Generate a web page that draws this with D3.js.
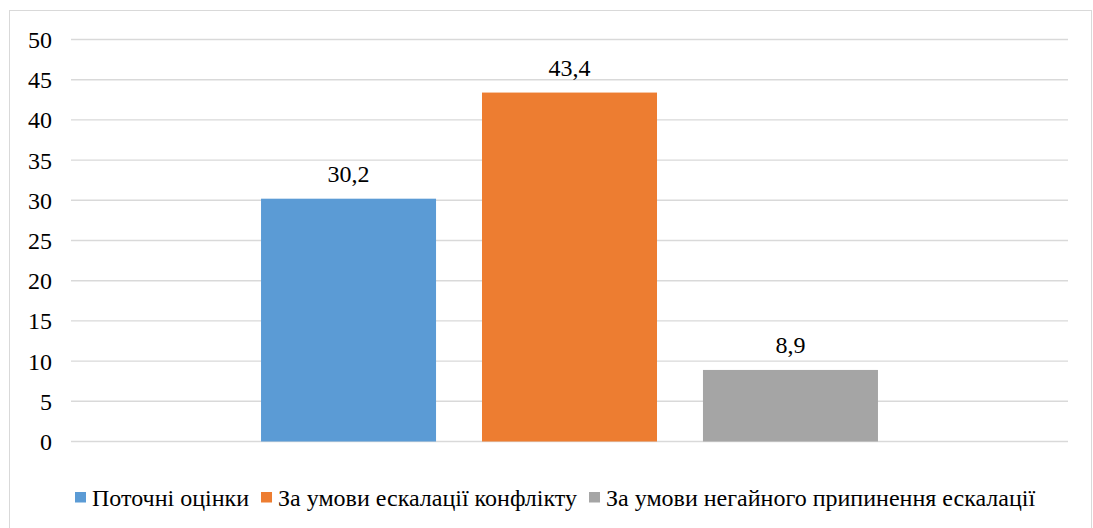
<!DOCTYPE html>
<html>
<head>
<meta charset="utf-8">
<script src="https://cdn.jsdelivr.net/npm/d3@7"></script>
<style>
  html, body { margin: 0; padding: 0; background: #fff; }
  svg { display: block; }
</style>
</head>
<body>
<svg id="chart" width="1093" height="528" style='font-family: "Liberation Serif"'></svg>
<script>
// Scenario estimates (single category, three series)
const seriesNames = [
  "Поточні оцінки",
  "За умови ескалації конфлікту",
  "За умови негайного припинення ескалації"
];
const seriesValues = [30.2, 43.4, 8.9];
const seriesLabels = ["30,2", "43,4", "8,9"];
const seriesColors = ["#5b9bd5", "#ed7d31", "#a5a5a5"];
const yTicks = [0, 5, 10, 15, 20, 25, 30, 35, 40, 45, 50];

const fontSize = 24;
const svg = d3.select("#chart");
const plot = { left: 71, right: 1068, top: 39.5, bottom: 441.5 };

// Chart-area border
svg.append("rect")
  .attr("x", 9.5).attr("y", 10.5)
  .attr("width", 1082).attr("height", 540)
  .attr("fill", "none")
  .attr("stroke", "#d9d9d9")
  .attr("stroke-width", 1);

const y = d3.scaleLinear().domain([0, 50]).range([plot.bottom, plot.top]);
const x = d3.scaleBand()
  .domain(seriesNames)
  .range([plot.left, plot.right])
  .paddingInner(0.208)
  .paddingOuter(0.86);

// Horizontal gridlines (including baseline)
svg.append("g")
  .selectAll("line")
  .data(yTicks)
  .join("line")
  .attr("x1", plot.left).attr("x2", plot.right)
  .attr("y1", d => y(d)).attr("y2", d => y(d))
  .attr("stroke", "#d9d9d9")
  .attr("stroke-width", 1.4);

// Bars
svg.append("g")
  .selectAll("rect")
  .data(seriesNames)
  .join("rect")
  .attr("x", d => x(d))
  .attr("width", x.bandwidth())
  .attr("y", (d, i) => y(seriesValues[i]))
  .attr("height", (d, i) => y(0) - y(seriesValues[i]))
  .attr("fill", (d, i) => seriesColors[i]);

// All text goes into one group carrying the serif face
const txt = svg.append("g").style("font-family", '"Liberation Serif"');

// Y-axis tick labels
const yAxis = d3.axisLeft(y).tickValues(yTicks).tickSize(0).tickPadding(0)
  .tickFormat(d => String(d));
const gy = txt.append("g").attr("transform", "translate(52,0)").call(yAxis);
gy.select(".domain").remove();
gy.attr("font-family", null).attr("font-size", null);
gy.selectAll("text")
  .style("font-family", '"Liberation Serif"')
  .attr("font-size", fontSize)
  .attr("fill", "#000")
  .attr("dy", "0.33em");

// Value labels
txt.append("g")
  .selectAll("text")
  .data(seriesNames)
  .join("text")
  .style("font-family", '"Liberation Serif"')
  .attr("font-size", fontSize)
  .attr("fill", "#000")
  .attr("x", d => x(d) + x.bandwidth() / 2)
  .attr("y", (d, i) => y(seriesValues[i]) - 17)
  .attr("text-anchor", "middle")
  .text((d, i) => seriesLabels[i]);

// Legend
const legend = txt.append("g").attr("transform", "translate(0,506)");
let lx = 75;
seriesNames.forEach((name, i) => {
  legend.append("rect")
    .attr("x", lx).attr("y", -14)
    .attr("width", 11).attr("height", 10.5)
    .attr("fill", seriesColors[i]);
  const t = legend.append("text")
    .style("font-family", '"Liberation Serif"')
    .attr("font-size", fontSize)
    .attr("fill", "#000")
    .attr("x", lx + 17).attr("y", 0)
    .text(name);
  lx += 17 + t.node().getComputedTextLength() + 12;
});
</script>
</body>
</html>
